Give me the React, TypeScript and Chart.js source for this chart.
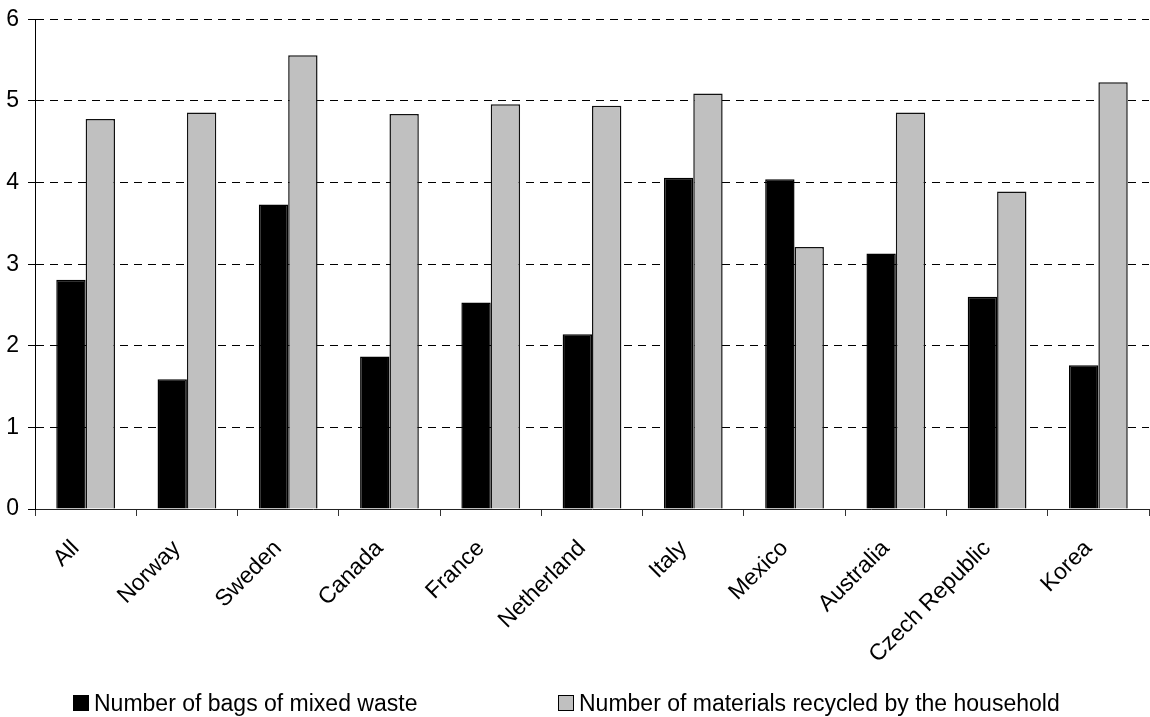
import React, { useEffect, useRef } from "react";
import { Chart, registerables } from "chart.js";

Chart.register(...registerables);

// Categories along the x axis
const categories = [
  "All",
  "Norway",
  "Sweden",
  "Canada",
  "France",
  "Netherland",
  "Italy",
  "Mexico",
  "Australia",
  "Czech Republic",
  "Korea",
];

// Series values
const bagsOfMixedWaste = [2.81, 1.59, 3.73, 1.87, 2.53, 2.14, 4.06, 4.04, 3.13, 2.6, 1.76];
const materialsRecycled = [4.78, 4.86, 5.56, 4.84, 4.96, 4.94, 5.09, 3.21, 4.86, 3.89, 5.23];

const seriesLabels = [
  "Number of bags of mixed waste",
  "Number of materials recycled by the household",
];

// Y axis range / tick step
const yMin = 0;
const yMax = 6;
const yStep = 1;

const FONT_FAMILY = '"Liberation Sans", Arial, Helvetica, sans-serif';
const FONT_SIZE = 23;
const WIDTH = 1150;
const HEIGHT = 717;

// Legend drawn along the bottom edge, one item per dataset
const legendItemX = [73, 558];
const legendBoxSize = 16;
const legendBaseline = 711;

const bottomLegend = {
  id: "bottomLegend",
  afterDraw(chart: any) {
    const ctx = chart.ctx as CanvasRenderingContext2D;
    ctx.save();
    ctx.font = `${FONT_SIZE}px ${FONT_FAMILY}`;
    ctx.textBaseline = "alphabetic";
    ctx.textAlign = "left";
    chart.data.datasets.forEach((ds: any, i: number) => {
      const x = legendItemX[i];
      const top = legendBaseline - legendBoxSize;
      ctx.fillStyle = ds.backgroundColor;
      ctx.fillRect(x, top, legendBoxSize, legendBoxSize);
      ctx.lineWidth = 1;
      ctx.strokeStyle = "#000";
      ctx.strokeRect(x + 0.5, top + 0.5, legendBoxSize - 1, legendBoxSize - 1);
      ctx.fillStyle = "#000";
      ctx.fillText(ds.label, x + legendBoxSize + 5, legendBaseline);
    });
    ctx.restore();
  },
};

export default function App() {
  const canvasRef = useRef<HTMLCanvasElement | null>(null);

  useEffect(() => {
    const canvas = canvasRef.current;
    if (!canvas) return;

    const chart = new Chart(canvas, {
      type: "bar",
      data: {
        labels: categories,
        datasets: [
          {
            label: seriesLabels[0],
            data: bagsOfMixedWaste,
            backgroundColor: "#000000",
            borderColor: "#000000",
            borderWidth: 1.5,
            categoryPercentage: 0.58,
            barPercentage: 1,
          },
          {
            label: seriesLabels[1],
            data: materialsRecycled,
            backgroundColor: "#c0c0c0",
            borderColor: "#111111",
            borderWidth: 1.5,
            categoryPercentage: 0.58,
            barPercentage: 1,
          },
        ],
      },
      options: {
        responsive: false,
        animation: false,
        devicePixelRatio: 1,
        layout: { padding: { top: 11, right: 1, bottom: 0, left: 0 } },
        plugins: {
          legend: { display: false },
          tooltip: { enabled: false },
          title: { display: false },
        },
        scales: {
          x: {
            type: "category",
            offset: true,
            grid: {
              display: true,
              drawOnChartArea: false,
              drawTicks: true,
              offset: true,
              tickLength: 7,
              tickColor: "#333333",
              color: "#333333",
            },
            border: { display: true, color: "#222222", width: 1 },
            ticks: {
              autoSkip: false,
              minRotation: 45,
              maxRotation: 45,
              padding: 19,
              labelOffset: -10,
              color: "#000000",
              font: { family: FONT_FAMILY, size: FONT_SIZE },
            },
            afterFit: (scale: any) => {
              scale.height = HEIGHT - 509;
            },
          },
          y: {
            min: yMin,
            max: yMax,
            grid: {
              color: "#000000",
              lineWidth: 1,
              drawTicks: true,
              tickLength: 7,
              tickColor: "#000000",
            },
            border: { display: true, color: "#000000", width: 1, dash: [8, 6] },
            ticks: {
              stepSize: yStep,
              padding: 9,
              color: "#000000",
              font: { family: FONT_FAMILY, size: FONT_SIZE, lineHeight: 0.9 },
            },
            afterFit: (scale: any) => {
              scale.width = 35;
            },
          },
        },
      },
      plugins: [bottomLegend],
    });

    return () => {
      chart.destroy();
    };
  }, []);

  return (
    <div
      style={{
        position: "fixed",
        left: 0,
        top: 0,
        width: WIDTH,
        height: HEIGHT,
        background: "#ffffff",
      }}
    >
      <canvas ref={canvasRef} width={WIDTH} height={HEIGHT} style={{ display: "block" }} />
    </div>
  );
}
